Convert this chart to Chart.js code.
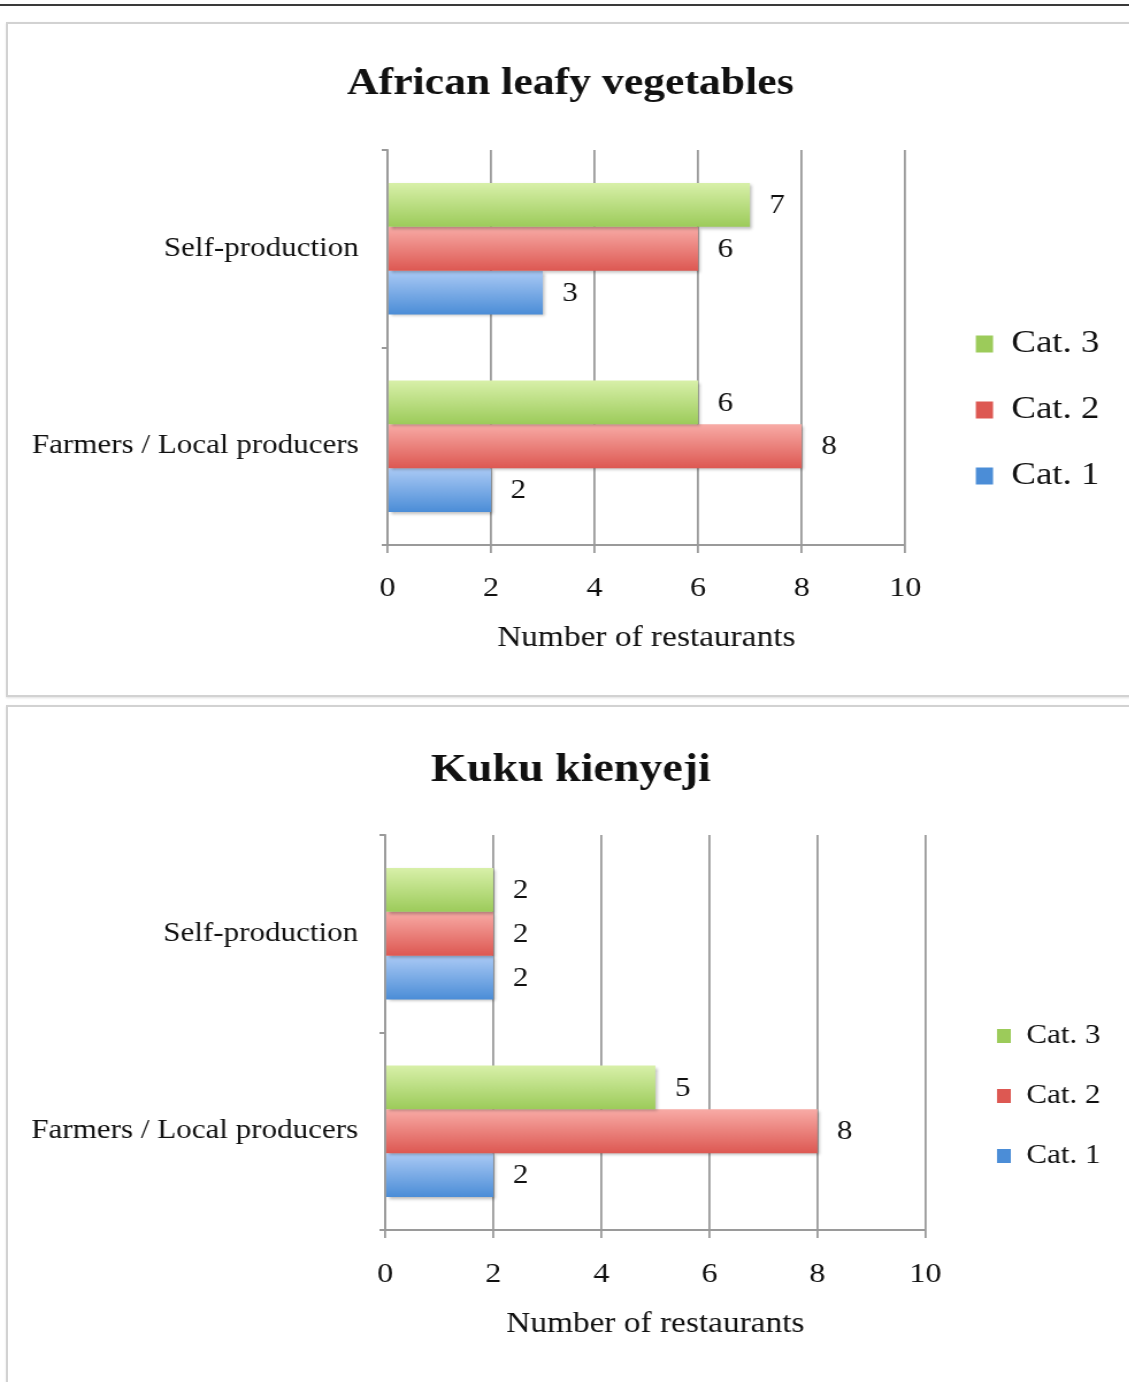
<!DOCTYPE html>
<html>
<head>
<meta charset="utf-8">
<script src="https://cdn.jsdelivr.net/npm/chart.js@4.4.0/dist/chart.umd.min.js"></script>
<style>
  html, body { margin: 0; padding: 0; background: #fff; overflow: hidden; }
  body { width: 1129px; height: 1382px; position: relative; }
  .topline { position: absolute; left: 0; top: 4px; width: 1129px; height: 2px; background: #3a3a3a; }
  .panel { position: absolute; left: 6px; width: 1140px; border: 2px solid #d2d2d2; box-shadow: 0 1px 2px rgba(0,0,0,0.12); }
  #p1 { top: 22px; height: 671px; }
  #p2 { top: 705px; height: 700px; }
  /* the source figure is stretched sideways, so the canvases are too */
  .panel canvas { position: absolute; left: 0; top: 0; transform: scaleX(1.15); transform-origin: 0 0; }
</style>
</head>
<body>
<div class="topline"></div>
<div class="panel" id="p1"><canvas id="alv" width="975" height="671"></canvas></div>
<div class="panel" id="p2"><canvas id="kuku" width="975" height="675"></canvas></div>
<script>
// categories and series
const categories = ["Self-production", "Farmers / Local producers"];
const seriesNames = ["Cat. 3", "Cat. 2", "Cat. 1"];
const alvCat3 = [7, 6];
const alvCat2 = [6, 8];
const alvCat1 = [3, 2];
const kukuCat3 = [2, 5];
const kukuCat2 = [2, 8];
const kukuCat1 = [2, 2];
const xTicks = [0, 2, 4, 6, 8, 10];

const serif = "'Liberation Serif', 'Times New Roman', serif";
const gridGray = "#9a9a9a";

// top / bottom colours of the bar gradient
const palette = {
    "Cat. 3": ["#d8f0a9", "#9ccb5a"],
    "Cat. 2": ["#f8aba6", "#dd5852"],
    "Cat. 1": ["#abcaf5", "#4b8dd7"]
};

// gradient fill + soft shadow on the bars, value labels at the bar ends
const barLook = {
    id: "barLook",
    beforeDatasetsDraw(chart) {
        const ctx = chart.ctx;
        chart.data.datasets.forEach((ds, i) => {
            const cols = palette[ds.label];
            chart.getDatasetMeta(i).data.forEach(bar => {
                const g = ctx.createLinearGradient(0, bar.y - bar.height / 2, 0, bar.y + bar.height / 2);
                g.addColorStop(0, cols[0]);
                g.addColorStop(1, cols[1]);
                bar.options.backgroundColor = g;
            });
        });
        ctx.save();
        ctx.shadowColor = "rgba(0,0,0,0.28)";
        ctx.shadowOffsetX = 2;
        ctx.shadowOffsetY = 2;
        ctx.shadowBlur = 3;
    },
    afterDatasetsDraw(chart, args, opts) {
        const ctx = chart.ctx;
        ctx.restore();
        ctx.save();
        ctx.fillStyle = "#111";
        ctx.font = opts.size + "px " + serif;
        ctx.textAlign = "left";
        ctx.textBaseline = "middle";
        chart.data.datasets.forEach((ds, i) => {
            chart.getDatasetMeta(i).data.forEach((bar, j) => {
                ctx.fillText(ds.data[j], bar.x + opts.gap, bar.y + 1);
            });
        });
        ctx.restore();
    }
};

// empty layout box that keeps some room between the plot and the legend
function legendGap(size) {
    return {
        id: "legendGap",
        beforeInit(chart) {
            const box = {
                position: "right", weight: 500, fullSize: false,
                options: {},
                width: 0, height: 0,
                isHorizontal() { return false; },
                update(maxWidth, maxHeight) { this.width = size; this.height = maxHeight; },
                draw() {}
            };
            if (Chart.layouts && Chart.layouts.addBox) {
                Chart.layouts.addBox(chart, box);
            } else {
                box._layers = () => [{ z: 0, draw() {} }];
                chart.boxes.push(box);
            }
        }
    };
}

function makeChart(id, title, series, L) {
    const datasets = seriesNames.map((name, i) => ({
        label: name,
        data: series[i],
        backgroundColor: ctx => palette[name][1],
        borderWidth: 0,
        categoryPercentage: 0.665,
        barPercentage: 1.0
    }));
    return new Chart(document.getElementById(id), {
        type: "bar",
        data: { labels: categories, datasets: datasets },
        plugins: [barLook, legendGap(L.gap)],
        options: {
            indexAxis: "y",
            responsive: false,
            animation: false,
            layout: { padding: { left: L.padLeft, right: L.padRight, top: 0, bottom: L.padBottom } },
            scales: {
                x: {
                    min: 0, max: 10,
                    afterBuildTicks: s => { s.ticks = xTicks.map(v => ({ value: v })); },
                    grid: { color: gridGray, lineWidth: 1.8, tickLength: 8 },
                    border: { color: gridGray, width: 2 },
                    ticks: { color: "#111", font: { family: serif, size: 28 }, padding: L.xTickPad },
                    title: {
                        display: true, text: "Number of restaurants", color: "#111",
                        font: { family: serif, size: 29 }, padding: { top: L.xTitleTop, bottom: 0 }
                    }
                },
                y: {
                    afterFit: s => { s.width = L.plotLeft - L.padLeft; },
                    grid: { drawOnChartArea: false, color: gridGray, lineWidth: 2, tickLength: 5 },
                    border: { color: gridGray, width: 1.8 },
                    ticks: { color: "#111", font: { family: serif, size: 27 }, padding: L.yTickPad }
                }
            },
            plugins: {
                title: {
                    display: true, text: title, color: "#111",
                    font: { family: serif, size: L.titleSize, weight: "bold", lineHeight: 1.2 },
                    padding: { top: L.titleTop, bottom: L.titleBottom }
                },
                legend: {
                    position: "right",
                    title: { display: true, text: "", font: { size: 10, lineHeight: 1.2 }, padding: { top: L.legendShift, bottom: 0 } },
                    labels: {
                        color: "#111",
                        font: { family: serif, size: L.legendSize },
                        boxWidth: L.legendBoxW, boxHeight: L.legendBoxH,
                        padding: L.legendPad
                    }
                },
                tooltip: { enabled: false },
                barLook: { size: 27, gap: 17 }
            }
        }
    });
}

makeChart("alv", "African leafy vegetables", [alvCat3, alvCat2, alvCat1], {
    plotLeft: 330, gap: 27.4, padLeft: 19, padRight: 16, padBottom: 39.6,
    xTickPad: 19, xTitleTop: -4, yTickPad: 20,
    titleSize: 38, titleTop: 37, titleBottom: 43.4,
    legendSize: 32, legendBoxW: 15, legendBoxH: 17, legendPad: 34, legendShift: 128.6
});

makeChart("kuku", "Kuku kienyeji", [kukuCat3, kukuCat2, kukuCat1], {
    plotLeft: 328, gap: 29.2, padLeft: 19, padRight: 15, padBottom: 40.6,
    xTickPad: 20, xTitleTop: -5, yTickPad: 18.5,
    titleSize: 40, titleTop: 40, titleBottom: 40,
    legendSize: 27, legendBoxW: 12, legendBoxH: 14, legendPad: 33, legendShift: 131.6
});
</script>
</body>
</html>
